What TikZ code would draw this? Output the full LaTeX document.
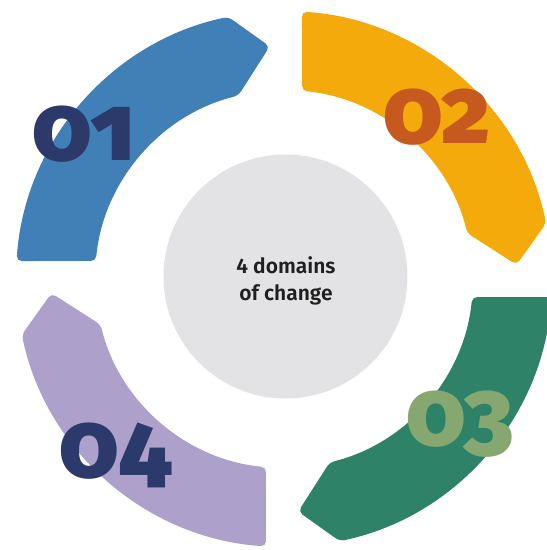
\documentclass[tikz,border=0pt]{standalone}
\usepackage{fontspec}
\setmainfont{Fira Sans}
\newfontfamily\numfont[Numbers=OldStyle]{Fira Sans Black}
\newfontfamily\hubfont{Fira Sans SemiBold}
\definecolor{segblue}{HTML}{4080B6}
\definecolor{segyellow}{HTML}{F5AA0B}
\definecolor{seggreen}{HTML}{2D8268}
\definecolor{segpurple}{HTML}{ADA0CB}
\definecolor{numnavy}{HTML}{2B3A6B}
\definecolor{numrust}{HTML}{C65A1E}
\definecolor{numsage}{HTML}{86A870}
\definecolor{hubgray}{HTML}{E3E3E5}

\begin{document}
\begin{tikzpicture}[x=1pt, y=1pt,
    hub/.style={circle, fill=hubgray, minimum size=244pt, inner sep=0pt},
    num/.style={anchor=base, font=\numfont\fontsize{93}{93}\selectfont}]
    \useasboundingbox (-284,-271) rectangle (263,279);
    \clip (-284,-271) rectangle (263,279);
    \fill[white] (-284,-271) rectangle (263,279);

    % ring segments
    \foreach \turn/\col in {0/segblue, 1/segyellow, 2/seggreen, 3/segpurple}{
        \fill[\col, rotate=-90*\turn, rounded corners=5pt]
            (-267.4,18) arc[start angle=176.15, end angle=102, radius=268]
            -- (93.5:233) -- (104:189)
            arc[start angle=104, end angle=174.53, radius=189] -- cycle;
    }

    % centre
    \node[hub] (hub) at (1.5,2.5) {};
    \node[align=center, font=\hubfont\fontsize{21}{27}\selectfont, text=black!88] (hubtext) at (2,-2) {4 domains\\of change};

    % numbers
    \node[num, text=numnavy] (num1) at (-200,119) {01};
    \node[num, text=numrust] (num2) at (153,136) {02};
    \node[num, text=numsage] (num3) at (176,-166) {03};
    \node[num, text=numnavy] (num4) at (-168,-198) {04};
\end{tikzpicture}
\end{document}
